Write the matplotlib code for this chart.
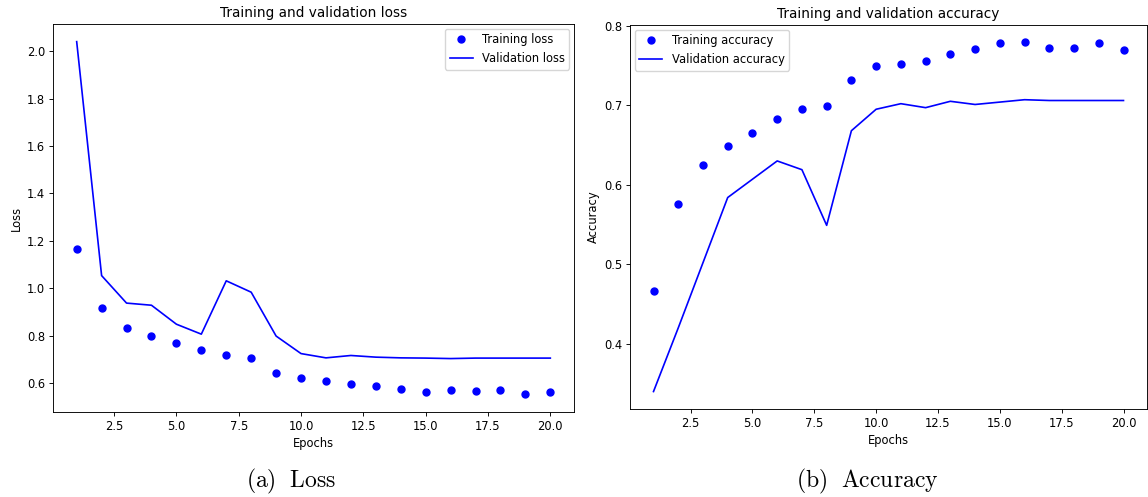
import numpy as np
import matplotlib
matplotlib.use('Agg')
import matplotlib.pyplot as plt

# values
epochs = np.arange(1, 21)
train_loss = [1.165, 0.918, 0.834, 0.800, 0.769, 0.741, 0.717, 0.707, 0.643, 0.619,
              0.608, 0.594, 0.587, 0.573, 0.562, 0.569, 0.566, 0.569, 0.552, 0.562]
val_loss = [2.040, 1.053, 0.937, 0.928, 0.848, 0.806, 1.031, 0.983, 0.798, 0.724,
            0.706, 0.716, 0.709, 0.706, 0.705, 0.703, 0.705, 0.705, 0.705, 0.705]
train_acc = [0.466, 0.576, 0.625, 0.649, 0.665, 0.683, 0.695, 0.699, 0.732, 0.749,
             0.752, 0.756, 0.764, 0.771, 0.778, 0.779, 0.772, 0.772, 0.778, 0.770]
val_acc = [0.340, 0.420, 0.502, 0.584, 0.607, 0.630, 0.619, 0.549, 0.668, 0.695,
           0.702, 0.697, 0.705, 0.701, 0.704, 0.707, 0.706, 0.706, 0.706, 0.706]

plt.rcParams['mathtext.fontset'] = 'cm'
fs = 8.3

fig = plt.figure(figsize=(11.48, 4.97), dpi=100)
ax1 = fig.add_axes([53/1148, 85/497, 521/1148, 388/497])
ax2 = fig.add_axes([630/1148, 88/497, 517/1148, 384/497])

panels = [
    (ax1, train_loss, val_loss, 'Training loss', 'Validation loss',
     'Training and validation loss', 'Loss', 'upper right'),
    (ax2, train_acc, val_acc, 'Training accuracy', 'Validation accuracy',
     'Training and validation accuracy', 'Accuracy', 'upper left'),
]

for ax, tr, va, ltr, lva, title, ylab, loc in panels:
    ax.plot(epochs, tr, 'bo', markersize=5, label=ltr)
    ax.plot(epochs, va, 'b', linewidth=1.2, label=lva)
    ax.set_title(title, fontsize=9.8, pad=5)
    ax.set_xlabel('Epochs', fontsize=fs, labelpad=3)
    ax.set_ylabel(ylab, fontsize=fs, labelpad=3)
    ax.tick_params(labelsize=fs, width=0.65, length=3, pad=2.5)
    for s in ax.spines.values():
        s.set_linewidth(0.65)
    ax.legend(loc=loc, fontsize=fs, borderaxespad=0.4)

fig.text(291/1148, 1 - 481/497, r'$\mathrm{(a)\ \ Loss}$', fontsize=17,
         ha='center', va='center')
fig.text(867/1148, 1 - 481/497, r'$\mathrm{(b)\ \ Accuracy}$', fontsize=17,
         ha='center', va='center')

fig.savefig('out.png', dpi=100)
